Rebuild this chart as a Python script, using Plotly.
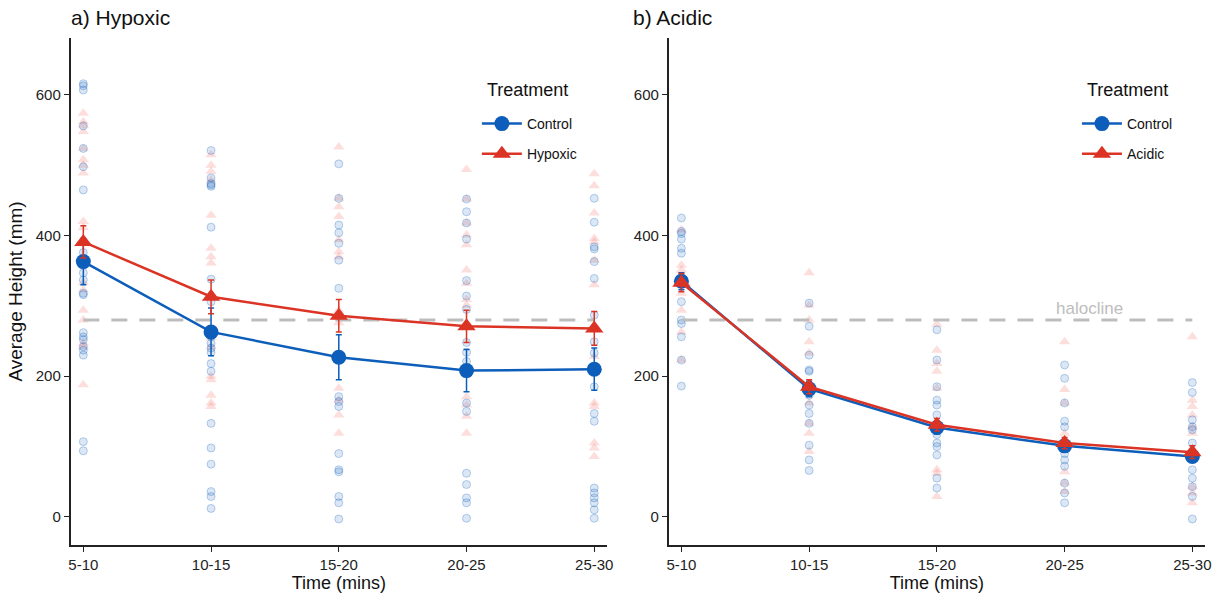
import plotly.graph_objects as go

# ---- data -------------------------------------------------------------
times = ["5-10", "10-15", "15-20", "20-25", "25-30"]

# Panel a: individual heights (mm) per time bin
hyp_control_pts = {
    "5-10": [616, 613, 607, 556, 524, 498, 465, 376, 365, 347, 337, 318, 316,
             262, 256, 252, 242, 237, 230, 107, 94],
    "10-15": [521, 482, 474, 472, 470, 412, 338, 306, 256, 247, 240, 234, 218,
              207, 133, 98, 75, 36, 29, 12],
    "15-20": [502, 453, 415, 404, 389, 365, 325, 227, 171, 164, 157, 90, 67,
              64, 29, 20, -3],
    "20-25": [452, 434, 418, 395, 336, 314, 295, 248, 234, 221, 162, 150, 62,
              46, 27, 20, -2],
    "25-30": [453, 419, 384, 381, 363, 339, 287, 249, 233, 185, 147, 136, 41,
              34, 27, 20, 10, -2],
}
hyp_treat_pts = {
    "5-10": [574, 562, 557, 548, 524, 508, 500, 489, 420, 411, 333, 323, 294,
             280, 247, 242, 188],
    "10-15": [515, 500, 491, 479, 429, 382, 370, 361, 311, 255, 242, 200, 195,
              173, 162, 157],
    "15-20": [526, 453, 441, 427, 394, 377, 370, 294, 285, 276, 183, 166, 145,
              119],
    "20-25": [494, 452, 418, 401, 387, 351, 332, 309, 301, 171, 159, 143, 119],
    "25-30": [488, 471, 432, 396, 391, 365, 330, 228, 162, 157, 105, 98, 86],
}
hyp_control_mean = [363, 263, 227, 208, 210]
hyp_control_se = [33, 34, 32, 30, 30]
hyp_treat_mean = [391, 313, 286, 271, 268]
hyp_treat_se = [23, 24, 23, 23, 24]

# Panel b: individual heights (mm) per time bin
acid_control_pts = {
    "5-10": [425, 406, 403, 395, 382, 375, 337, 332, 306, 280, 275, 256, 223,
             186],
    "10-15": [304, 271, 230, 209, 207, 173, 159, 147, 133, 102, 81, 66],
    "15-20": [266, 223, 185, 166, 159, 145, 117, 105, 100, 88, 55, 41],
    "20-25": [216, 197, 162, 136, 128, 90, 81, 72, 48, 34, 20],
    "25-30": [191, 177, 138, 128, 124, 105, 67, 55, 43, 29, -3],
}
acid_treat_pts = {
    "5-10": [408, 358, 351, 318, 294, 263, 223],
    "10-15": [347, 301, 280, 249, 233, 162, 133, 119, 93],
    "15-20": [274, 237, 218, 207, 183, 67, 62, 29],
    "20-25": [249, 181, 162, 119, 64, 48, 36],
    "25-30": [256, 166, 157, 145, 128, 119, 43, 34, 20],
}
acid_control_mean = [335, 182, 127, 101, 86]
acid_control_se = [12, 11, 9, 8, 8]
acid_treat_mean = [333, 185, 131, 105, 92]
acid_treat_se = [13, 10, 9, 8, 9]

halocline = 280

# ---- styling ----------------------------------------------------------
BLUE = "#0D5EBA"
RED = "#DB3425"
FONT = "Liberation Sans, Arial, sans-serif"

fig = go.Figure()


def flatten(pts):
    xs, ys = [], []
    for t in times:
        for v in pts[t]:
            xs.append(t)
            ys.append(v)
    return xs, ys


def add_panel(xa, ya, ctrl_pts, trt_pts, ctrl_mean, ctrl_se, trt_mean, trt_se,
              trt_name, legend):
    cx, cy = flatten(ctrl_pts)
    tx, ty = flatten(trt_pts)
    fig.add_trace(go.Scatter(
        x=tx, y=ty, mode="markers", xaxis=xa, yaxis=ya, showlegend=False,
        hoverinfo="skip",
        marker=dict(symbol="triangle-up", size=10, color="rgba(240,110,100,0.22)",
                    line=dict(width=0))))
    fig.add_trace(go.Scatter(
        x=cx, y=cy, mode="markers", xaxis=xa, yaxis=ya, showlegend=False,
        hoverinfo="skip",
        marker=dict(symbol="circle", size=8, color="rgba(13,94,186,0.15)",
                    line=dict(width=1, color="rgba(13,94,186,0.28)"))))
    fig.add_trace(go.Scatter(
        x=[times[0], times[-1]], y=[halocline, halocline], mode="lines",
        xaxis=xa, yaxis=ya, showlegend=False, hoverinfo="skip",
        line=dict(color="#BDBDBD", width=3, dash="16px,12px")))
    fig.add_trace(go.Scatter(
        x=times, y=ctrl_mean, mode="lines+markers", name="Control",
        xaxis=xa, yaxis=ya, legend=legend, legendgroup=legend + "c",
        line=dict(color=BLUE, width=2.5),
        marker=dict(symbol="circle", size=15, color=BLUE),
        error_y=dict(type="data", array=ctrl_se, color=BLUE, thickness=1.5,
                     width=3)))
    fig.add_trace(go.Scatter(
        x=times, y=trt_mean, mode="lines+markers", name=trt_name,
        xaxis=xa, yaxis=ya, legend=legend, legendgroup=legend + "t",
        line=dict(color=RED, width=2.5),
        marker=dict(symbol="triangle-up", size=16, color=RED),
        error_y=dict(type="data", array=trt_se, color=RED, thickness=1.5,
                     width=3)))


add_panel("x", "y", hyp_control_pts, hyp_treat_pts, hyp_control_mean,
          hyp_control_se, hyp_treat_mean, hyp_treat_se, "Hypoxic", "legend")
add_panel("x2", "y2", acid_control_pts, acid_treat_pts, acid_control_mean,
          acid_control_se, acid_treat_mean, acid_treat_se, "Acidic", "legend2")

W, H = 1228, 599
ydom = [1 - 545 / H, 1 - 38 / H]

xcommon = dict(
    type="category", categoryorder="array", categoryarray=times,
    range=[-0.1, 4.1], showline=True, linecolor="#222", linewidth=1.5,
    ticks="outside", ticklen=5, tickwidth=1.2, tickcolor="#222",
    showgrid=False, zeroline=False,
    tickfont=dict(family=FONT, size=15, color="#222"),
    title=dict(text="Time (mins)", font=dict(family=FONT, size=18, color="#111"),
               standoff=3),
)
ycommon = dict(
    range=[-40, 681], showline=True, linecolor="#222", linewidth=1.5,
    ticks="outside", ticklen=5, tickwidth=1.2, tickcolor="#222",
    tickvals=[0, 200, 400, 600], showgrid=False, zeroline=False,
    tickfont=dict(family=FONT, size=15, color="#222"), domain=ydom,
)

legcommon = dict(
    bgcolor="rgba(0,0,0,0)", yanchor="top", xanchor="left",
    font=dict(family=FONT, size=14, color="#111"),
    tracegroupgap=9, itemwidth=40,
)

fig.update_layout(
    width=W, height=H, margin=dict(l=0, r=0, t=0, b=0),
    plot_bgcolor="white", paper_bgcolor="white",
    xaxis=dict(xcommon, domain=[69 / W, 609 / W], anchor="y"),
    yaxis=dict(ycommon, anchor="x",
               title=dict(text="Average Height (mm)",
                          font=dict(family=FONT, size=19, color="#111"),
                          standoff=8)),
    xaxis2=dict(xcommon, domain=[671 / W, 1211 / W], anchor="y2"),
    yaxis2=dict(ycommon, anchor="x2"),
    legend=dict(legcommon, x=478 / W, y=1 - 108 / H),
    legend2=dict(legcommon, x=1082 / W, y=1 - 108 / H),
    annotations=[
        dict(text="a) Hypoxic", x=67 / W, y=1 - 17 / H, xref="paper",
             yref="paper", xanchor="left", yanchor="middle", showarrow=False,
             font=dict(family=FONT, size=21, color="#111")),
        dict(text="b) Acidic", x=633 / W, y=1 - 17 / H, xref="paper",
             yref="paper", xanchor="left", yanchor="middle", showarrow=False,
             font=dict(family=FONT, size=21, color="#111")),
        dict(text="Treatment", x=486 / W, y=1 - 90 / H, xref="paper",
             yref="paper", xanchor="left", yanchor="middle", showarrow=False,
             font=dict(family=FONT, size=18, color="#111")),
        dict(text="Treatment", x=1090 / W, y=1 - 90 / H, xref="paper",
             yref="paper", xanchor="left", yanchor="middle", showarrow=False,
             font=dict(family=FONT, size=18, color="#111")),
        dict(text="halocline", x=1095 / W, y=1 - 308 / H, xref="paper",
             yref="paper", xanchor="center", yanchor="middle", showarrow=False,
             font=dict(family=FONT, size=17, color="#BDBDBD")),
    ],
)

fig.write_html("out.html")
